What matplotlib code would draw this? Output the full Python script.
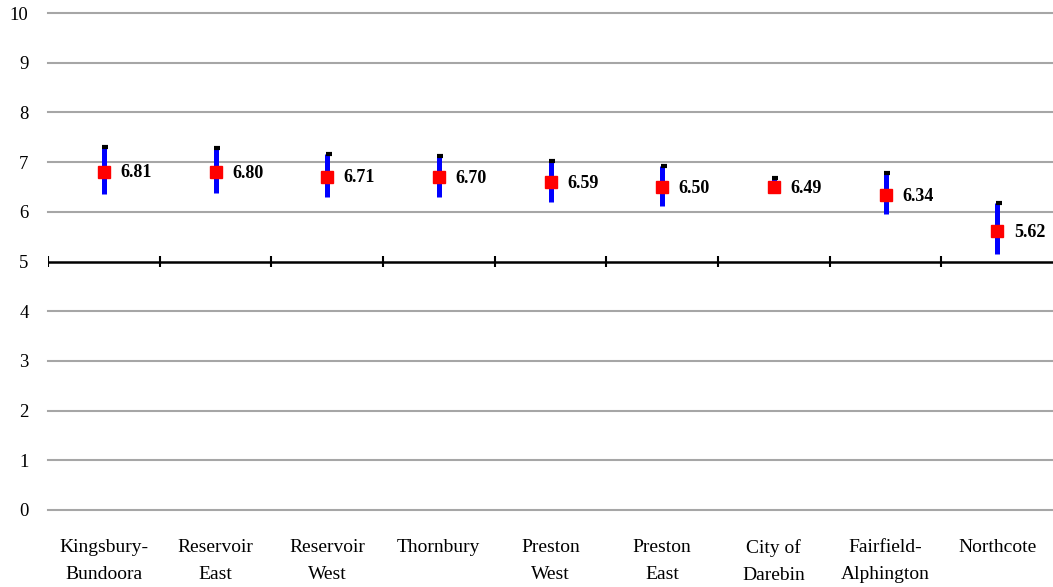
import matplotlib
matplotlib.use('Agg')  # headless
import matplotlib.pyplot as plt
import numpy as np

# -----------------------------
# data
# -----------------------------
areas = ["Kingsbury-\nBundoora", "Reservoir\nEast", "Reservoir\nWest", "Thornbury",
         "Preston\nWest", "Preston\nEast", "City of\nDarebin", "Fairfield-\nAlphington",
         "Northcote"]
means = [6.81, 6.80, 6.71, 6.70, 6.59, 6.50, 6.49, 6.34, 5.62]
highs = [7.31, 7.29, 7.17, 7.13, 7.03, 6.93, 6.68, 6.78, 6.18]
lows = [6.36, 6.37, 6.30, 6.30, 6.20, 6.12, 6.39, 5.95, 5.15]
yticks = list(range(0, 11))

plt.rcParams['font.family'] = ['Liberation Serif', 'DejaVu Serif']

fig = plt.figure(figsize=(10.53, 5.87), dpi=100)
ax = fig.add_axes([48 / 1053, 77 / 587, 1 - 48 / 1053, (510 - 13) / 587])

x = np.arange(len(areas))

# gridlines (gray), axis line at 5 (black)
for v in yticks:
    if v == 5:
        continue
    ax.axhline(v, color="#a6a6a6", lw=1.5, zorder=1, clip_on=False)
ax.axhline(5, color="black", lw=1.8, zorder=2)
ax.vlines(np.arange(len(areas)) - 0.5, 4.89, 5.11, color="black", lw=1.5, zorder=2)

# high-low ranges
ax.vlines(x, lows, highs, color="#0000ff", lw=3.6, zorder=3)
ax.plot(x + 0.012, highs, ls="none", marker="_", ms=5, mew=3, color="black", zorder=4)
ax.plot(x, means, ls="none", marker="s", ms=8, color="#ff0000", zorder=5)

for xi, m in zip(x, means):
    ax.annotate(f"{m:.2f}", (xi, m), xytext=(12, -1), textcoords="offset points",
                ha="left", va="center", fontsize=13, fontweight="bold")

ax.set_xlim(-0.5, len(areas) - 0.5)
ax.set_ylim(0, 10)
ax.set_yticks(yticks)
ax.set_yticklabels([str(v) for v in yticks], fontsize=13.5)
ax.set_xticks(x)
ax.set_xticklabels(areas, fontsize=14, linespacing=1.75)
ax.tick_params(axis="y", length=0, pad=14)
ax.tick_params(axis="x", length=0, pad=21)
for s in ax.spines.values():
    s.set_visible(False)

fig.savefig("out.png", dpi=100)
